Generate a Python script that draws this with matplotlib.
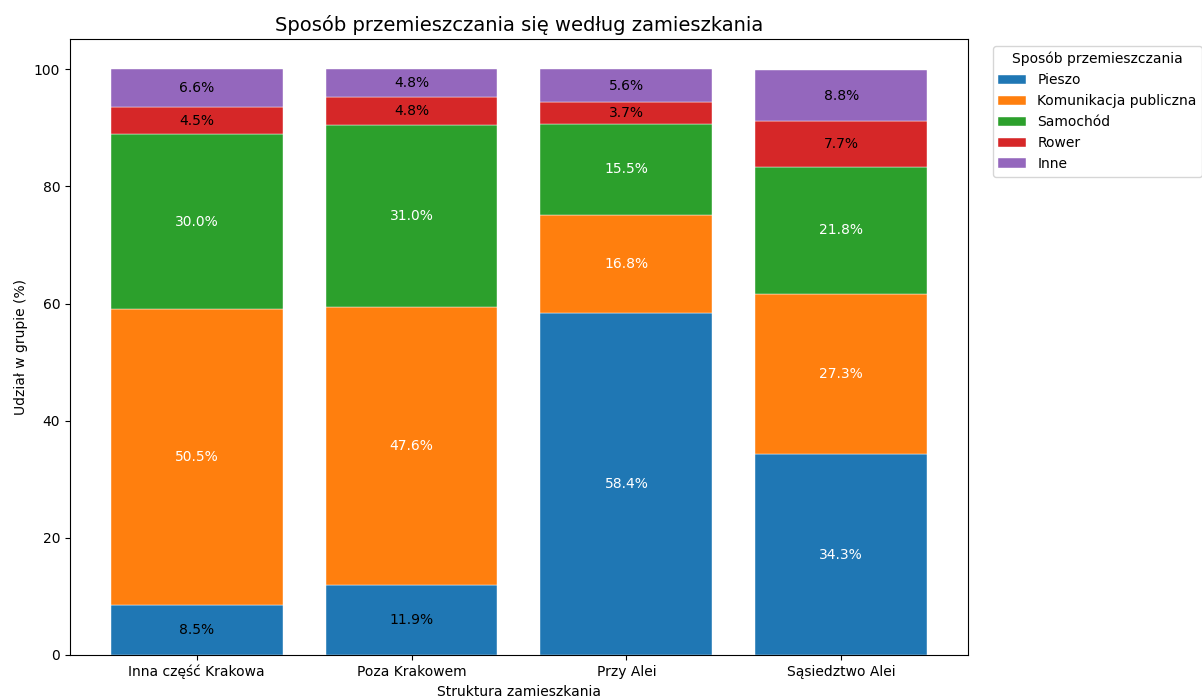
import numpy as np
import matplotlib
matplotlib.use('Agg')
from matplotlib import pyplot as plt

groups = ['Inna część Krakowa', 'Poza Krakowem', 'Przy Alei', 'Sąsiedztwo Alei']
modes = ['Pieszo', 'Komunikacja publiczna', 'Samochód', 'Rower', 'Inne']
pieszo = [8.5, 11.9, 58.4, 34.3]
komunikacja = [50.5, 47.6, 16.8, 27.3]
samochod = [30.0, 31.0, 15.5, 21.8]
rower = [4.5, 4.8, 3.7, 7.7]
inne = [6.6, 4.8, 5.6, 8.8]

series = [pieszo, komunikacja, samochod, rower, inne]
colors = ['#1f77b4', '#ff7f0e', '#2ca02c', '#d62728', '#9467bd']

fig = plt.figure(figsize=(12.02, 7), dpi=100)
ax = fig.add_axes([0.0582, 0.0643, 0.7471, 0.8793])

x = np.arange(len(groups))
bottom = np.zeros(len(groups))
for name, vals, c in zip(modes, series, colors):
    vals = np.array(vals)
    bars = ax.bar(x, vals, 0.8, bottom=bottom, color=c, label=name,
                  edgecolor='white', linewidth=0.3)
    for b, v, y0 in zip(bars, vals, bottom):
        tc = 'white' if v >= 15 else 'black'
        ax.text(b.get_x() + b.get_width() / 2, y0 + v / 2, '%.1f%%' % v,
                ha='center', va='center', color=tc, fontsize=10)
    bottom += vals

ax.set_xticks(x)
ax.set_xticklabels(groups)
ax.set_title('Sposób przemieszczania się według zamieszkania', fontsize=14)
ax.set_ylabel('Udział w grupie (%)')
ax.set_xlabel('Struktura zamieszkania')
ax.legend(title='Sposób przemieszczania', bbox_to_anchor=(1.02, 1), loc='upper left')

fig.savefig('out.png', dpi=100)
